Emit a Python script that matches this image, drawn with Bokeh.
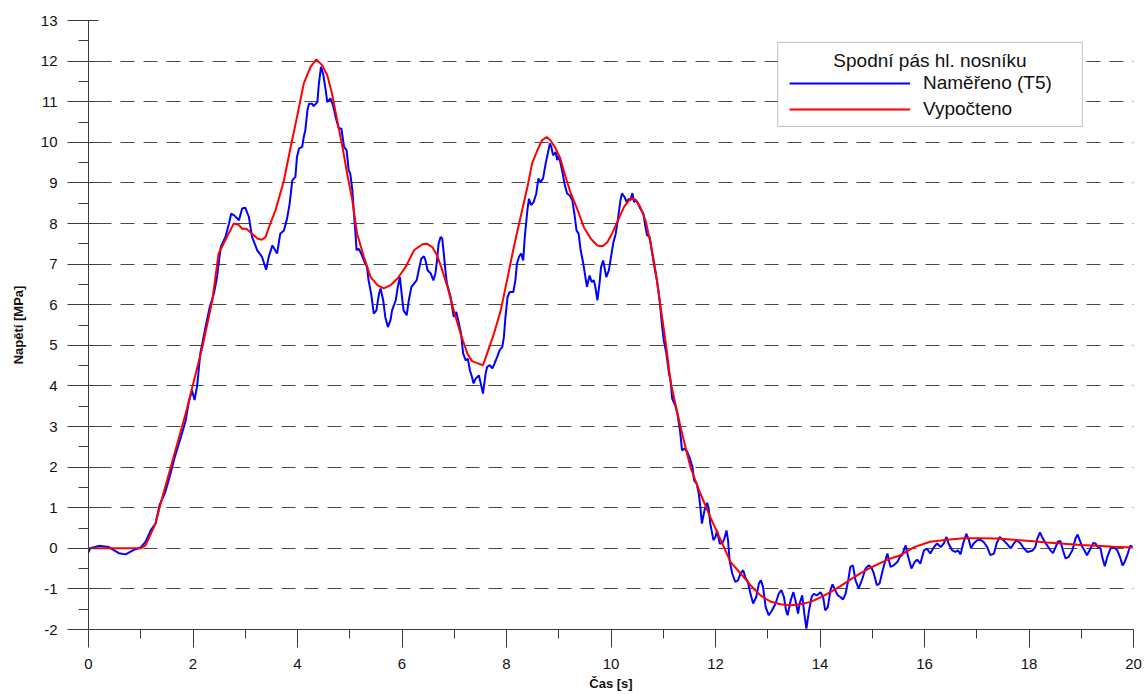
from bokeh.plotting import figure
from bokeh.models import (Range1d, SingleIntervalTicker, Legend, LegendItem,
                          BoxAnnotation, Label, PrintfTickFormatter)
from bokeh.embed import file_html
from bokeh.resources import INLINE

# Measured stress at the bottom chord (gauge T5): time [s], stress [MPa]
meas_t = [0.00, 0.03, 0.20, 0.39, 0.58, 0.71, 0.87, 1.00, 1.09, 1.19, 1.28, 1.36, 1.47, 1.57,
          1.66, 1.76, 1.86, 1.92, 1.98, 2.03, 2.08, 2.14, 2.24, 2.32, 2.40, 2.46, 2.53, 2.62,
          2.69, 2.73, 2.79, 2.88, 2.94, 3.00, 3.07, 3.13, 3.23, 3.32, 3.40, 3.45, 3.52, 3.61,
          3.67, 3.74, 3.80, 3.85, 3.90, 3.96, 3.99, 4.03, 4.09, 4.12, 4.15, 4.19, 4.22, 4.28,
          4.31, 4.38, 4.41, 4.45, 4.49, 4.54, 4.57, 4.63, 4.68, 4.73, 4.79, 4.84, 4.89, 4.94,
          4.98, 5.01, 5.05, 5.08, 5.11, 5.13, 5.17, 5.22, 5.27, 5.33, 5.36, 5.41, 5.46, 5.51,
          5.56, 5.59, 5.64, 5.68, 5.73, 5.78, 5.81, 5.88, 5.92, 5.96, 6.00, 6.03, 6.09, 6.13,
          6.18, 6.23, 6.28, 6.32, 6.37, 6.42, 6.45, 6.49, 6.55, 6.60, 6.64, 6.67, 6.70, 6.74,
          6.77, 6.80, 6.83, 6.86, 6.93, 6.99, 7.04, 7.09, 7.13, 7.17, 7.22, 7.26, 7.30, 7.34,
          7.37, 7.41, 7.47, 7.50, 7.55, 7.60, 7.63, 7.68, 7.73, 7.77, 7.82, 7.87, 7.92, 7.95,
          7.98, 8.02, 8.06, 8.13, 8.17, 8.20, 8.24, 8.28, 8.32, 8.35, 8.40, 8.43, 8.47, 8.52,
          8.57, 8.61, 8.65, 8.70, 8.75, 8.79, 8.83, 8.86, 8.89, 8.94, 8.97, 9.00, 9.03, 9.07,
          9.11, 9.16, 9.21, 9.26, 9.30, 9.34, 9.38, 9.42, 9.47, 9.51, 9.54, 9.59, 9.63, 9.67,
          9.70, 9.74, 9.78, 9.81, 9.85, 9.88, 9.91, 9.96, 9.99, 10.04, 10.09, 10.13, 10.18,
          10.21, 10.26, 10.30, 10.34, 10.37, 10.41, 10.44, 10.47, 10.50, 10.56, 10.62, 10.66,
          10.69, 10.74, 10.79, 10.83, 10.88, 10.93, 10.98, 11.01, 11.06, 11.11, 11.14, 11.17,
          11.23, 11.27, 11.32, 11.36, 11.41, 11.46, 11.51, 11.56, 11.59, 11.64, 11.68, 11.71,
          11.74, 11.79, 11.84, 11.87, 11.90, 11.96, 12.00, 12.03, 12.08, 12.13, 12.17, 12.21,
          12.24, 12.27, 12.32, 12.38, 12.43, 12.48, 12.53, 12.57, 12.62, 12.67, 12.72, 12.78,
          12.83, 12.87, 12.91, 12.96, 13.02, 13.08, 13.15, 13.21, 13.26, 13.31, 13.35, 13.38,
          13.44, 13.49, 13.53, 13.58, 13.61, 13.66, 13.70, 13.74, 13.79, 13.84, 13.88, 13.94,
          14.01, 14.06, 14.10, 14.15, 14.20, 14.24, 14.29, 14.34, 14.39, 14.44, 14.49, 14.54,
          14.58, 14.63, 14.68, 14.74, 14.81, 14.87, 14.93, 14.98, 15.03, 15.09, 15.14, 15.20,
          15.25, 15.29, 15.35, 15.41, 15.48, 15.53, 15.57, 15.64, 15.68, 15.75, 15.81, 15.86,
          15.92, 15.99, 16.05, 16.11, 16.18, 16.24, 16.31, 16.37, 16.42, 16.46, 16.53, 16.59,
          16.64, 16.69, 16.74, 16.80, 16.85, 16.89, 16.94, 17.01, 17.07, 17.13, 17.20, 17.26,
          17.33, 17.38, 17.44, 17.51, 17.57, 17.65, 17.71, 17.77, 17.84, 17.90, 17.97, 18.06,
          18.12, 18.16, 18.21, 18.25, 18.30, 18.35, 18.41, 18.46, 18.51, 18.55, 18.60, 18.65,
          18.70, 18.76, 18.83, 18.89, 18.93, 18.97, 19.02, 19.06, 19.11, 19.16, 19.23, 19.27,
          19.32, 19.37, 19.40, 19.45, 19.50, 19.56, 19.63, 19.69, 19.74, 19.79, 19.83, 19.89,
          19.94, 19.98]
meas_v = [-0.10, 0.00, 0.06, 0.03, -0.12, -0.15, -0.04, 0.02, 0.16, 0.44, 0.60, 1.06, 1.39, 1.84,
          2.29, 2.70, 3.15, 3.60, 3.89, 3.65, 4.01, 4.80, 5.45, 5.94, 6.27, 6.68, 7.42, 7.67,
          8.00, 8.24, 8.20, 8.08, 8.37, 8.39, 8.16, 7.67, 7.34, 7.18, 6.86, 7.18, 7.46, 7.26,
          7.75, 7.83, 8.12, 8.49, 9.06, 9.15, 9.64, 9.85, 9.89, 10.13, 10.30, 10.79, 10.95, 10.95,
          10.89, 10.99, 11.45, 11.86, 11.69, 11.28, 10.99, 11.08, 10.91, 10.62, 10.34, 10.34, 9.89, 9.80,
          9.31, 9.23, 8.82, 8.24, 7.75, 7.34, 7.38, 7.26, 7.09, 6.93, 6.60, 6.27, 5.78, 5.86,
          6.27, 6.40, 6.11, 5.70, 5.45, 5.62, 5.86, 6.11, 6.44, 6.68, 6.19, 5.86, 5.74, 6.11,
          6.44, 6.52, 6.60, 6.85, 7.14, 7.19, 7.09, 6.85, 6.77, 6.60, 6.77, 7.09, 7.50, 7.67,
          7.63, 7.26, 6.85, 6.52, 6.19, 5.70, 5.82, 5.53, 5.29, 4.80, 4.63, 4.67, 4.38, 4.22,
          4.06, 4.18, 4.26, 4.10, 3.81, 4.30, 4.47, 4.51, 4.43, 4.55, 4.71, 4.88, 4.96, 5.20,
          5.70, 6.19, 6.31, 6.31, 6.60, 7.01, 7.18, 7.26, 7.09, 7.67, 8.33, 8.61, 8.45, 8.53,
          8.74, 9.11, 9.02, 9.11, 9.48, 9.72, 9.97, 9.88, 9.68, 9.76, 9.56, 9.68, 9.51, 9.27,
          8.98, 8.74, 8.69, 8.57, 8.24, 7.83, 7.75, 7.34, 7.01, 6.68, 6.44, 6.72, 6.56, 6.60,
          6.44, 6.11, 6.52, 6.93, 7.09, 6.89, 6.68, 6.85, 7.09, 7.50, 7.75, 8.08, 8.57,
          8.74, 8.65, 8.53, 8.61, 8.57, 8.75, 8.53, 8.57, 8.53, 8.37, 8.24, 7.91,
          7.71, 7.67, 7.26, 6.93, 6.60, 6.11, 5.45, 5.12, 4.80, 4.30, 4.14, 3.69,
          3.52, 3.32, 2.91, 2.41, 2.46, 2.37, 2.21, 2.00, 1.67, 1.59, 1.35, 1.02,
          0.61, 0.94, 1.12, 0.98, 0.61, 0.20, 0.28, 0.44, 0.12, 0.12, 0.24, 0.44,
          0.20, -0.30, -0.62, -0.83, -0.79, -0.62, -0.54, -0.71, -0.83, -1.12, -1.36, -1.20,
          -0.87, -0.79, -0.95, -1.45, -1.65, -1.53, -1.36, -1.12, -1.03, -1.20, -1.53, -1.65,
          -1.28, -1.08, -1.28, -1.61, -1.36, -1.16, -1.61, -1.98, -1.53, -1.20, -1.12, -1.16,
          -1.08, -1.20, -1.53, -1.45, -1.03, -0.89, -1.03, -1.16, -1.20, -1.26, -1.12, -0.79,
          -0.46, -0.42, -0.79, -0.99, -0.75, -0.50, -0.42, -0.46, -0.62, -0.91, -0.87, -0.54,
          -0.30, -0.13, -0.46, -0.42, -0.34, -0.21, -0.17, 0.07, -0.17, -0.50, -0.34, -0.28,
          -0.38, -0.05, -0.01, -0.13, 0.03, 0.12, 0.03, 0.12, 0.28, 0.12, -0.05, -0.09,
          -0.05, -0.15, 0.12, 0.36, 0.20, 0.00, 0.12, 0.20, 0.21, 0.16, 0.03, -0.17,
          -0.13, 0.12, 0.28, 0.20, 0.12, 0.00, 0.12, 0.20, 0.12, 0.00, -0.09, -0.06,
          0.03, 0.24, 0.39, 0.28, 0.16, 0.07, -0.05, -0.12, 0.03, 0.16, 0.18, -0.05,
          -0.25, -0.21, -0.05, 0.24, 0.34, 0.20, 0.03, -0.05, -0.17, -0.05, 0.13, 0.12,
          0.03, 0.00, -0.21, -0.44, -0.21, 0.00, 0.02, -0.05, -0.21, -0.42, -0.34, -0.13,
          0.07, 0.03]

# Computed stress: time [s], stress [MPa]
calc_t = [0.00, 0.50, 1.00, 1.09, 1.28, 1.38, 1.54, 1.86, 2.18, 2.37, 2.49, 2.62, 2.78, 2.88,
          2.94, 3.02, 3.13, 3.23, 3.32, 3.39, 3.48, 3.58, 3.67, 3.74, 3.87, 3.99, 4.12, 4.25,
          4.36, 4.47, 4.57, 4.66, 4.76, 4.86, 4.95, 5.05, 5.14, 5.27, 5.40, 5.53, 5.65, 5.78,
          5.91, 6.07, 6.23, 6.39, 6.48, 6.58, 6.67, 6.77, 6.87, 6.99, 7.12, 7.25, 7.34, 7.44,
          7.55, 7.63, 7.76, 7.89, 8.01, 8.14, 8.27, 8.40, 8.49, 8.59, 8.68, 8.77, 8.84, 8.94,
          9.03, 9.13, 9.22, 9.35, 9.48, 9.61, 9.74, 9.84, 9.93, 10.02, 10.12, 10.25, 10.37,
          10.47, 10.56, 10.66, 10.76, 10.85, 10.95, 11.05, 11.14, 11.33, 11.52, 11.71, 11.90,
          12.10, 12.29, 12.48, 12.67, 12.86, 13.05, 13.24, 13.44, 13.63, 13.82, 14.01, 14.20,
          14.39, 14.58, 14.77, 14.96, 15.16, 15.35, 15.54, 15.80, 16.11, 16.43, 16.75, 17.07,
          17.39, 17.71, 18.03, 18.35, 18.67, 18.99, 19.30, 19.62, 19.98]
calc_v = [0.00, 0.00, 0.00, 0.07, 0.60, 1.10, 1.84, 3.32, 4.96, 6.11, 7.26, 7.59, 8.00, 7.96,
          7.87, 7.87, 7.75, 7.63, 7.60, 7.67, 8.00, 8.33, 8.74, 9.06, 9.89, 10.62, 11.45, 11.86,
          12.04, 11.90, 11.65, 11.20, 10.54, 9.89, 9.23, 8.57, 7.75, 7.18, 6.68, 6.48, 6.40, 6.48,
          6.64, 6.93, 7.34, 7.49, 7.50, 7.42, 7.22, 6.85, 6.44, 5.86, 5.29, 4.80, 4.61, 4.56,
          4.51, 4.80, 5.29, 5.86, 6.60, 7.42, 8.16, 8.90, 9.48, 9.80, 10.05, 10.13, 10.05, 9.85,
          9.60, 9.15, 8.78, 8.37, 7.91, 7.63, 7.46, 7.44, 7.54, 7.75, 8.04, 8.41, 8.61,
          8.59, 8.41, 8.08, 7.50, 6.85, 5.94, 5.05, 4.10, 2.99, 2.00, 1.35, 0.77,
          0.20, -0.34, -0.62, -0.91, -1.16, -1.31, -1.38, -1.40, -1.38, -1.32, -1.21, -1.08,
          -0.93, -0.77, -0.62, -0.48, -0.36, -0.25, -0.17, 0.03, 0.16, 0.21, 0.25, 0.25,
          0.24, 0.21, 0.18, 0.14, 0.11, 0.08, 0.06, 0.04, 0.02]

legend_title = "Spodní pás hl. nosníku"
meas_label = "Naměřeno (T5)"
calc_label = "Vypočteno"

FONT = "Liberation Sans"
AXIS_COLOR = "#3c3c3c"

p = figure(width=1144, height=694, output_backend="svg", toolbar_location=None,
           x_range=Range1d(0, 20), y_range=Range1d(-2, 13),
           min_border_left=88, min_border_right=11, min_border_top=20,
           min_border_bottom=65, background_fill_color="white",
           border_fill_color="white")
p.outline_line_color = None

# x axis: labelled every 2 s, minor tick every 1 s, ticks pointing outwards
p.xaxis.ticker = SingleIntervalTicker(interval=2, num_minor_ticks=2)
p.xaxis.axis_label = "Čas [s]"
p.xaxis.major_tick_in = 0
p.xaxis.major_tick_out = 18
p.xaxis.minor_tick_in = 0
p.xaxis.minor_tick_out = 9
p.xaxis.major_label_standoff = 11
p.xaxis.axis_label_standoff = 4

# y axis: labelled every 1 MPa, minor tick every 0.5 MPa
p.yaxis.ticker = SingleIntervalTicker(interval=1, num_minor_ticks=2)
p.yaxis.axis_label = "Napětí [MPa]"
p.yaxis.major_tick_in = 10
p.yaxis.major_tick_out = 21
p.yaxis.minor_tick_in = 0
p.yaxis.minor_tick_out = 10
p.yaxis.major_label_standoff = 10
p.yaxis.axis_label_standoff = 12

for ax in (p.xaxis, p.yaxis):
    ax.formatter = PrintfTickFormatter(format="%d")
    ax.axis_line_color = AXIS_COLOR
    ax.major_tick_line_color = AXIS_COLOR
    ax.minor_tick_line_color = AXIS_COLOR
    ax.major_label_text_font = FONT
    ax.major_label_text_font_size = "15px"
    ax.major_label_text_color = "#111111"
    ax.axis_label_text_font = FONT
    ax.axis_label_text_font_size = "13px"
    ax.axis_label_text_font_style = "bold"
    ax.axis_label_text_color = "#111111"

p.xgrid.grid_line_color = None
p.ygrid.grid_line_color = "#4a4a4a"
p.ygrid.grid_line_dash = "14 9"
p.ygrid.grid_line_dash_offset = 14
p.ygrid.grid_line_width = 1

r_meas = p.line(meas_t, meas_v, line_color="#0000ff", line_width=2)
r_calc = p.line(calc_t, calc_v, line_color="#ff0000", line_width=2)

# legend frame with a centred heading
p.add_layout(BoxAnnotation(left=13.19, right=19.02, bottom=10.39, top=12.46,
                           fill_color="white", fill_alpha=1.0,
                           line_color="#333333", line_width=1))
p.add_layout(Label(x=16.105, y=12.02, text=legend_title, text_align="center",
                   text_baseline="middle", text_font=FONT, text_font_size="19px",
                   text_color="#111111"))

legend = Legend(items=[LegendItem(label=meas_label, renderers=[r_meas]),
                       LegendItem(label=calc_label, renderers=[r_calc])],
                location=(701, 509), padding=0, margin=0, spacing=4,
                glyph_width=121, glyph_height=22, label_height=22,
                label_standoff=13, label_text_font=FONT,
                label_text_font_size="19px", label_text_color="#111111",
                border_line_alpha=0, background_fill_alpha=0)
p.add_layout(legend)

open("out.html", "w").write(file_html(p, INLINE))
